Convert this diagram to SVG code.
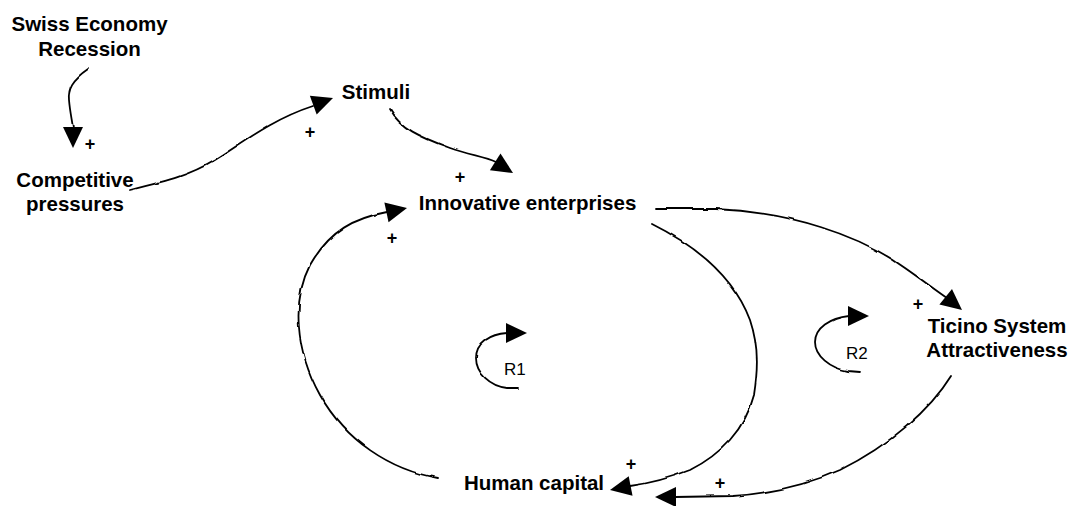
<svg xmlns="http://www.w3.org/2000/svg" xmlns:xlink="http://www.w3.org/1999/xlink" width="1073" height="506" viewBox="0 0 1073 506">
  <style>
    .node { font-family: "Liberation Sans", Arial, sans-serif; font-size: 20.5px; font-weight: bold; fill: #000; text-anchor: middle; }
    .loop { font-family: "Liberation Sans", Arial, sans-serif; font-size: 17px; fill: #000; }
    .pol { font-family: "Liberation Sans", Arial, sans-serif; font-size: 18px; font-weight: bold; fill: #000; text-anchor: middle; }
    .link { fill: none; stroke: #000; stroke-width: 1.8; stroke-linecap: round; stroke-linejoin: round; filter: url(#rough); }
    .head { fill: #000; stroke: none; }
  </style>
  <defs>
    <!-- hand-drawn wobble for the curved links -->
    <filter id="rough" filterUnits="userSpaceOnUse" x="0" y="0" width="1073" height="506">
      <feTurbulence type="fractalNoise" baseFrequency="0.06" numOctaves="1" seed="7" result="noise"/>
      <feDisplacementMap in="SourceGraphic" in2="noise" scale="3" xChannelSelector="R" yChannelSelector="G"/>
    </filter>
    <!-- filled arrowhead, tip at origin, pointing along +x -->
    <polygon id="ah" class="head" points="0,0 -21,-10 -21,10"/>
  </defs>

  <rect width="1073" height="506" fill="#fff"/>

  <!-- variables -->
  <g id="swiss-economy-recession">
    <text class="node" x="89.5" y="31">Swiss Economy</text>
    <text class="node" x="89.5" y="56">Recession</text>
  </g>
  <g id="competitive-pressures">
    <text class="node" x="75" y="187">Competitive</text>
    <text class="node" x="75" y="211">pressures</text>
  </g>
  <g id="stimuli">
    <text class="node" x="376" y="99">Stimuli</text>
  </g>
  <g id="innovative-enterprises">
    <text class="node" x="527.5" y="210">Innovative enterprises</text>
  </g>
  <g id="ticino-system-attractiveness">
    <text class="node" x="997" y="333">Ticino System</text>
    <text class="node" x="997" y="357">Attractiveness</text>
  </g>
  <g id="human-capital">
    <text class="node" x="534" y="490">Human capital</text>
  </g>

  <!-- reinforcing loop markers -->
  <g id="loop-r1">
    <path class="link" d="M 518,388 L 507,388 C 490,386 476,373 476,358 C 476,343 490,334 507,333"/>
    <use xlink:href="#ah" href="#ah" transform="translate(527,333)"/>
    <text class="loop" x="504" y="375">R1</text>
  </g>
  <g id="loop-r2">
    <path class="link" d="M 860,372 L 848,371 C 830,368 815,356 815,342 C 815,328 830,318 849,316"/>
    <use xlink:href="#ah" href="#ah" transform="translate(869,316)"/>
    <text class="loop" x="846" y="359">R2</text>
  </g>

  <!-- causal links -->
  <g id="connectors">
    <!-- Swiss Economy Recession -> Competitive pressures -->
    <path class="link" d="M 88,69 C 72,80 68,88 69,100 C 70,112 72,120 73,128"/>
    <use xlink:href="#ah" href="#ah" transform="translate(73,148) rotate(90)"/>
    <text class="pol" x="90" y="149.5">+</text>

    <!-- Competitive pressures -> Stimuli -->
    <path class="link" d="M 130,190 C 170,180 190,175 215,160 S 270,120 313,106"/>
    <use xlink:href="#ah" href="#ah" transform="translate(333,98) rotate(-20)"/>
    <text class="pol" x="310" y="137.5">+</text>

    <!-- Stimuli -> Innovative enterprises -->
    <path class="link" d="M 390,110 C 400,128 420,137 450,148 C 470,155 485,157 496,162"/>
    <use xlink:href="#ah" href="#ah" transform="translate(513,173) rotate(32)"/>
    <text class="pol" x="460" y="182.5">+</text>

    <!-- Innovative enterprises -> Ticino System Attractiveness -->
    <path class="link" d="M 656,209 L 715,209 C 790,212 860,235 905,268 C 925,282 938,292 947,298"/>
    <use xlink:href="#ah" href="#ah" transform="translate(962,310) rotate(39)"/>
    <text class="pol" x="918" y="310">+</text>

    <!-- Innovative enterprises -> Human capital -->
    <path class="link" d="M 652,224 C 700,248 735,280 750,320 C 760,350 757,375 754,395 C 745,430 720,455 690,470 C 665,480 645,484 630,486"/>
    <use xlink:href="#ah" href="#ah" transform="translate(610,490) rotate(169)"/>
    <text class="pol" x="631" y="469.5">+</text>

    <!-- Ticino System Attractiveness -> Human capital -->
    <path class="link" d="M 951,376 C 930,410 890,445 840,470 C 800,488 760,494 733,496 L 675,497"/>
    <use xlink:href="#ah" href="#ah" transform="translate(655,497) rotate(180)"/>
    <text class="pol" x="720" y="488.5">+</text>

    <!-- Human capital -> Innovative enterprises -->
    <path class="link" d="M 438,478 C 390,470 345,440 320,395 C 295,350 292,300 310,265 C 330,230 355,218 387,212"/>
    <use xlink:href="#ah" href="#ah" transform="translate(407,208) rotate(-12)"/>
    <text class="pol" x="392" y="243.5">+</text>
  </g>
</svg>
